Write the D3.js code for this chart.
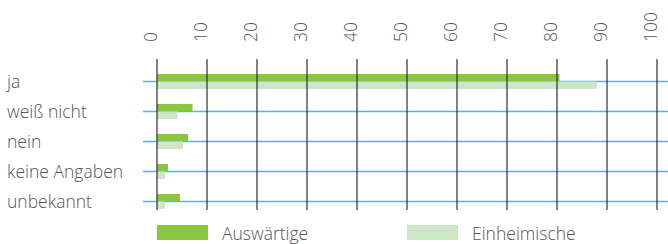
<!DOCTYPE html>
<html>
<head>
<meta charset="utf-8">
<script src="https://cdn.jsdelivr.net/npm/d3@7"></script>
<style>
  body { margin: 0; background: #fff; }
  text { font-family: "Open Sans", sans-serif; font-weight: 300; fill: #555; }
</style>
</head>
<body>
<div id="chart"></div>
<script>
const categories = ['ja', 'weiß nicht', 'nein', 'keine Angaben', 'unbekannt'];
const auswaertige = [80.5, 7.1, 6.2, 2.2, 4.6];
const einheimische = [88, 4.1, 5.2, 1.6, 1.6];
const ticks = [0, 10, 20, 30, 40, 50, 60, 70, 80, 90, 100];
const seriesNames = ['Auswärtige', 'Einheimische'];
const colors = ['#8cc63f', '#cfe6c6'];

const width = 668, height = 244;
const svg = d3.select('#chart').append('svg')
  .attr('width', width)
  .attr('height', height);

const x = d3.scaleLinear().domain([0, 100]).range([157, 657]);
const y = d3.scalePoint().domain(categories).range([81.5, 201.5]);
const barH = 7.5;

// horizontal guide lines (behind bars)
svg.selectAll('.hline')
  .data(categories)
  .enter().append('line')
  .attr('x1', 143).attr('x2', width)
  .attr('y1', d => y(d)).attr('y2', d => y(d))
  .attr('stroke', '#3dbdee')
  .attr('stroke-width', 1.5);

// bars
const rows = categories.map((c, i) => ({ c, a: auswaertige[i], e: einheimische[i] }));
svg.selectAll('.bar-a')
  .data(rows)
  .enter().append('rect')
  .attr('x', x(0))
  .attr('y', d => y(d.c) - barH)
  .attr('width', d => x(d.a) - x(0))
  .attr('height', barH)
  .attr('fill', colors[0]);

svg.selectAll('.bar-e')
  .data(rows)
  .enter().append('rect')
  .attr('x', x(0))
  .attr('y', d => y(d.c))
  .attr('width', d => x(d.e) - x(0))
  .attr('height', barH)
  .attr('fill', colors[1]);

// vertical grid lines
svg.selectAll('.vline')
  .data(ticks)
  .enter().append('line')
  .attr('x1', d => x(d)).attr('x2', d => x(d))
  .attr('y1', 59).attr('y2', 210)
  .attr('stroke', '#2a2a2a')
  .attr('stroke-opacity', 0.9)
  .attr('stroke-width', 1.3);

// tick labels, rotated
svg.selectAll('.tick-label')
  .data(ticks)
  .enter().append('text')
  .attr('transform', d => `translate(${x(d)},42) rotate(-90)`)
  .attr('text-anchor', 'start')
  .style('font-size', '17.5px')
  .text(d => d);

// category labels
svg.selectAll('.cat-label')
  .data(categories)
  .enter().append('text')
  .attr('x', 7)
  .attr('y', d => y(d) + 6.5)
  .style('font-size', '17.5px')
  .text(d => d);

// legend
const legendX = [157, 407];
seriesNames.forEach((name, i) => {
  svg.append('rect')
    .attr('x', legendX[i]).attr('y', 225)
    .attr('width', 51).attr('height', 15)
    .attr('fill', colors[i]);
  svg.append('text')
    .attr('x', legendX[i] + 65).attr('y', 240)
    .style('font-size', '17.5px')
    .text(name);
});
</script>
</body>
</html>
